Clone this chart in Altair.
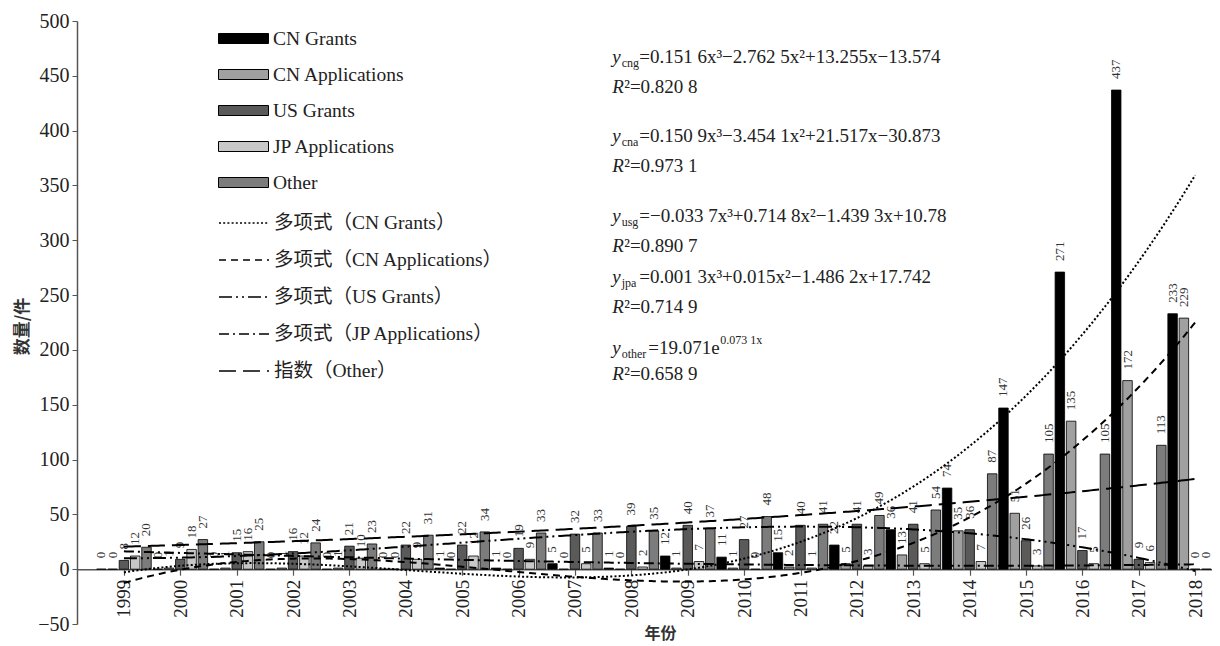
import altair as alt
import pandas as pd

# ---------------- data ----------------
YEARS = list(range(1999, 2019))
SERIES = ["CN Grants", "CN Applications", "US Grants", "JP Applications", "Other"]
CN_GRANTS = [0, 0, 0, 0, 0, 0, 1, 1, 5, 1, 12, 11, 15, 22, 36, 74, 147, 271, 437, 233]
CN_APPS = [0, 1, 1, 1, 1, 0, 0, 0, 0, 0, 1, 1, 2, 5, 13, 35, 51, 135, 172, 229]
US_GRANTS = [8, 9, 15, 16, 21, 22, 22, 19, 32, 39, 40, 27, 40, 41, 41, 36, 26, 17, 9, 0]
JP_APPS = [12, 18, 16, 12, 10, 9, 12, 9, 5, 2, 7, 0, 1, 3, 5, 7, 3, 5, 6, 0]
OTHER = [20, 27, 25, 24, 23, 31, 34, 33, 33, 35, 37, 48, 41, 49, 54, 87, 105, 105, 113, 36]

# trend-line coefficients printed on the chart (x = 1 for 1999 ... 20 for 2018)
FIT_KEYS = ["cng", "cna", "usg", "jpa", "other"]
FIT_LABELS = ["多项式（CN Grants）", "多项式（CN Applications）", "多项式（US Grants）",
              "多项式（JP Applications）", "指数（Other）"]
FIT_CNG = [0.1516, -2.7625, 13.255, -13.574]
FIT_CNA = [0.1509, -3.4541, 21.517, -30.873]
FIT_USG = [-0.0337, 0.7148, -1.4393, 10.78]
FIT_JPA = [0.0013, 0.015, -1.4862, 17.742]
FIT_OTHER = [19.071, 0.0731]

# equation annotations
EQ_SUB = ["cng", "cna", "usg", "jpa", "other"]
EQ_BODY = ["=0.151 6x³−2.762 5x²+13.255x−13.574",
           "=0.150 9x³−3.454 1x²+21.517x−30.873",
           "=−0.033 7x³+0.714 8x²−1.439 3x+10.78",
           "=0.001 3x³+0.015x²−1.486 2x+17.742",
           "=19.071e"]
EQ_EXP = ["", "", "", "", "0.073 1x"]
R2_TEXT = ["²=0.820 8", "²=0.973 1", "²=0.890 7", "²=0.714 9", "²=0.658 9"]
EQ_Y = [467.3, 395.3, 322.3, 266.7, 202.0]
R2_Y = [440.0, 367.9, 295.0, 239.4, 178.3]
EQ_X = 2007.66

# ---------------- styling ----------------
SERIF = "Liberation Serif, Noto Sans CJK SC"
CJK = "Noto Sans CJK SC"
FILLS = ["#000000", "#a0a0a0", "#5a5a5a", "#c8c8c8", "#7c7c7c"]
DASHES = [[2, 2.2], [7, 5], [13, 4, 2, 4, 2, 4], [10, 4, 2, 4], [17, 7]]

rows = []
for i, yr in enumerate(YEARS):
    for s, vals in zip(SERIES, [CN_GRANTS, CN_APPS, US_GRANTS, JP_APPS, OTHER]):
        rows.append({"year": yr, "series": s, "value": vals[i]})
bars_df = pd.DataFrame(rows)

eq_df = pd.DataFrame({"sub": EQ_SUB, "body": EQ_BODY, "exp": EQ_EXP, "r2": R2_TEXT,
                      "ey": EQ_Y, "ry": R2_Y, "ex": [EQ_X] * 5})

xscale = alt.Scale(domain=[1998.256, 2018.21], nice=False, zero=False)
yscale = alt.Scale(domain=[-50, 500], nice=False)

xaxis = alt.Axis(values=YEARS, format="d", title="年份", labelAngle=270, labelAlign="right",
                 labelBaseline="middle", labelFont=SERIF, labelFontSize=19, labelColor="#222",
                 labelPadding=4, labelOverlap=False, labelFlush=False, tickSize=6, tickColor="#555",
                 tickWidth=1.2, domainColor="#555", domainWidth=1.5, offset=-54.8, grid=False,
                 titleFont=CJK, titleFontSize=16, titleFontWeight="bold", titleColor="#333",
                 titleX=583, titleY=64, titleAlign="center", titleBaseline="middle")
yaxis = alt.Axis(values=list(range(-50, 501, 50)), title="数量/件", titleFont=CJK,
                 titleFontSize=17, titleFontWeight="bold", titleColor="#333", titleAngle=270,
                 titleX=-55, titleY=305, titleAlign="center", titleBaseline="middle",
                 labelFont=SERIF, labelFontSize=20, labelColor="#222", tickSize=5, labelPadding=3,
                 tickColor="#555", domainColor="#555", domainWidth=1.5, grid=False)

series_js = "[" + ",".join("'%s'" % s for s in SERIES) + "]"
base_bars = alt.Chart(bars_df).transform_calculate(
    xpos="datum.year + (indexof(%s, datum.series) - 2) * 0.2" % series_js
)

bars = base_bars.mark_bar(width=9.5, stroke="black", strokeWidth=0.8, clip=True,
                          orient="vertical").encode(
    x=alt.X("xpos:Q", scale=xscale, axis=xaxis),
    y=alt.Y("value:Q", scale=yscale, axis=yaxis),
    y2=alt.datum(0),
    fill=alt.Fill("series:N", scale=alt.Scale(domain=SERIES, range=FILLS),
                  legend=alt.Legend(title=None, orient="none", legendX=141, legendY=7,
                                    symbolType="M-2.5,-0.5H2.5V0.5H-2.5Z", symbolSize=400,
                                    symbolStrokeColor="black", symbolStrokeWidth=1,
                                    symbolOffset=15, labelOffset=19, labelFont=SERIF,
                                    labelFontSize=19.5, labelColor="#222", rowPadding=16,
                                    padding=0, labelLimit=400)),
)

bar_labels = base_bars.mark_text(angle=270, align="left", baseline="middle", dx=11, font=SERIF,
                                 fontSize=13, color="#333", clip=True).encode(
    x="xpos:Q", y="value:Q", text="value:Q")


def poly(c):
    return "%r*pow(datum.t,3)+%r*pow(datum.t,2)+%r*datum.t+%r" % tuple(c)


label_map = "{" + ",".join("'%s':'%s'" % (k, l) for k, l in zip(FIT_KEYS, FIT_LABELS)) + "}"

lines = alt.Chart(alt.sequence(1, 20.001, 0.05, as_="t")).transform_calculate(
    cng=poly(FIT_CNG), cna=poly(FIT_CNA), usg=poly(FIT_USG), jpa=poly(FIT_JPA),
    other="%r*exp(%r*datum.t)" % tuple(FIT_OTHER)
).transform_fold(FIT_KEYS, as_=["key", "val"]).transform_calculate(
    xpos="1998 + datum.t", fit=label_map + "[datum.key]"
).mark_line(color="black", strokeWidth=2, clip=True).encode(
    x="xpos:Q", y="val:Q", order="t:Q",
    strokeDash=alt.StrokeDash("fit:N", scale=alt.Scale(domain=FIT_LABELS, range=DASHES),
                              legend=alt.Legend(title=None, orient="none", legendX=141,
                                                legendY=191, symbolType="M-2.5,0H2.5",
                                                symbolSize=400, symbolStrokeColor="black",
                                                symbolStrokeWidth=1.6, symbolOffset=15,
                                                labelOffset=19, labelFont=SERIF,
                                                labelFontSize=19.5, labelColor="#222",
                                                rowPadding=16, padding=0, labelLimit=400)),
)

eq_base = alt.Chart(eq_df)
txt = dict(align="left", baseline="middle", font=SERIF, color="#222")
eq_y = eq_base.mark_text(text="y", fontSize=19, fontStyle="italic", **txt).encode(
    x="ex:Q", y="ey:Q")
eq_sub = eq_base.mark_text(fontSize=12, dx=9.5, dy=6, **txt).encode(
    x="ex:Q", y="ey:Q", text="sub:N")
eq_body = eq_base.transform_filter("datum.sub != 'other'").mark_text(
    fontSize=19, dx=27, **txt).encode(x="ex:Q", y="ey:Q", text="body:N")
eq_body_o = eq_base.transform_filter("datum.sub == 'other'").mark_text(
    fontSize=19, dx=36, **txt).encode(x="ex:Q", y="ey:Q", text="body:N")
eq_exp = eq_base.transform_filter("datum.sub == 'other'").mark_text(
    fontSize=12, dx=108, dy=-8, **txt).encode(x="ex:Q", y="ey:Q", text="exp:N")
r_r = eq_base.mark_text(text="R", fontSize=19, fontStyle="italic", **txt).encode(
    x="ex:Q", y="ry:Q")
r_rest = eq_base.mark_text(fontSize=19, dx=12, **txt).encode(
    x="ex:Q", y="ry:Q", text="r2:N")

chart = alt.layer(bars, bar_labels, lines, eq_y, eq_sub, eq_body, eq_body_o, eq_exp,
                  r_r, r_rest).properties(
    width=1135, height=603,
    autosize=alt.AutoSizeParams(type="none"),
    padding={"left": 69, "top": 13, "right": 0, "bottom": 22},
    background="white",
).configure_view(strokeWidth=0)

chart.save("out.html", embed_options={"renderer": "svg", "actions": False})
